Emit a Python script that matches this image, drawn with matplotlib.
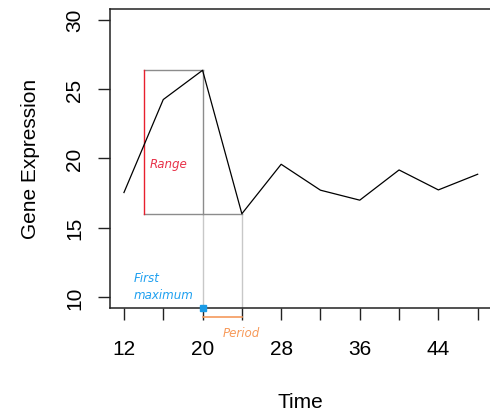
import numpy as np
import matplotlib
matplotlib.use("Agg")
import matplotlib.pyplot as plt

plt.rcParams['font.family'] = ['Liberation Sans', 'DejaVu Sans']

time = [12, 16, 20, 24, 28, 32, 36, 40, 44, 48]
expression = [17.53, 24.24, 26.35, 16.0, 19.57, 17.7, 16.98, 19.16, 17.72, 18.85]
x_ticks = [12, 16, 20, 24, 28, 32, 36, 40, 44, 48]
x_labels = ["12", "", "20", "", "28", "", "36", "", "44", ""]
y_ticks = [10, 15, 20, 25, 30]
range_x = 14

fig = plt.figure(figsize=(4.9, 4.14), dpi=100)
ax = fig.add_axes([0.2241, 0.2536, 0.7796, 0.7232])

ylo, yhi = 9.2, 30.8
ax.set_xlim(10.56, 49.44)
ax.set_ylim(ylo, yhi)

i_max = int(np.argmax(expression))
i_min = i_max + 1
t_max, y_max = time[i_max], expression[i_max]
t_min, y_min = time[i_min], expression[i_min]

# light guides down to the axis
ax.plot([t_max, t_max], [ylo, y_min], color='#c8c8c8', lw=1)
ax.plot([t_min, t_min], [ylo, y_min], color='#c8c8c8', lw=1)
# range box
ax.plot([range_x, t_max], [y_max, y_max], color='#8c8c8c', lw=1)
ax.plot([t_max, t_max], [y_max, y_min], color='#8c8c8c', lw=1)
ax.plot([range_x, t_min], [y_min, y_min], color='#8c8c8c', lw=1)
ax.plot([range_x, range_x], [y_min, y_max], color='#e8202e', lw=1)

ax.plot(time, expression, color='black', lw=0.9)

ax.plot([t_max], [ylo], marker='s', ms=4.5, color='#1a9be6', clip_on=False, zorder=5)
ax.plot([t_max, t_min], [8.56, 8.56], color='#f59a5c', lw=1.2, clip_on=False)

note = dict(style='italic', fontsize=8.6, family='DejaVu Sans', va='center')
ax.text(14.6, 19.66, "Range", color='#e8334a', **note)
ax.text(13.0, 11.37, "First", color='#1ea0f0', **note)
ax.text(13.0, 10.14, "maximum", color='#1ea0f0', **note)
ax.text(22.0, 7.4, "Period", color='#f79a5a', clip_on=False, **note)

ax.set_xticks(x_ticks)
ax.set_xticklabels(x_labels)
ax.set_yticks(y_ticks)
ax.set_yticklabels([str(v) for v in y_ticks], rotation=90, va='center')
ax.tick_params(axis='both', length=8.6, width=1, labelsize=15, color='#222222')
ax.tick_params(axis='x', pad=14)
ax.tick_params(axis='y', pad=10)

for s in ax.spines.values():
    s.set_linewidth(1.1)
    s.set_color('#222222')

ax.set_xlabel("Time", fontsize=15, labelpad=24)
ax.set_ylabel("Gene Expression", fontsize=15, labelpad=18)

fig.savefig("out.png", dpi=100)
